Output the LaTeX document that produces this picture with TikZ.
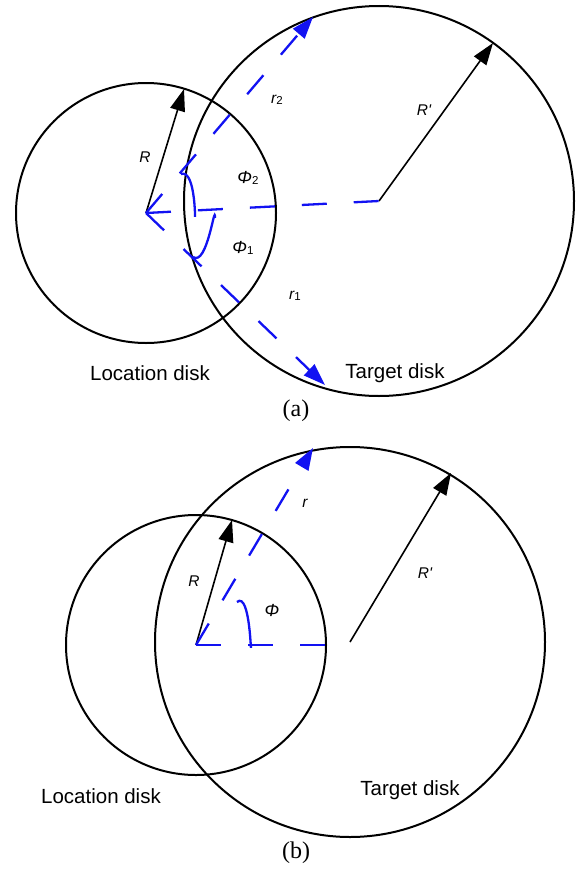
\documentclass[tikz,border=0pt]{standalone}
\usepackage{fontspec}
\setmainfont{Liberation Serif}
\newfontfamily\labelfont{Liberation Sans}
\usetikzlibrary{arrows.meta,calc}
\definecolor{ink}{HTML}{000000}
\definecolor{ray}{HTML}{1212F2}
\newcommand{\subidx}[1]{\raisebox{-1.5pt}{\fontsize{11.5}{13}\selectfont\upshape #1}}
\tikzset{
  disk/.style={draw=ink,line width=2pt},
  radarr/.style={-{Triangle[length=22pt,width=15pt]},draw=ink,fill=ink,line width=1.6pt},
  rayarr/.style={-{Triangle[length=22pt,width=15pt]},draw=ray,line width=2.3pt,dash pattern=on 25pt off 27pt},
  raydash/.style={draw=ray,line width=2.3pt,dash pattern=on 25pt off 27pt},
  anglearc/.style={draw=ray,line width=2.3pt},
  sym/.style={font=\labelfont\fontsize{15.5}{17}\selectfont\itshape,text=ink,inner sep=0pt},
  phi/.style={font=\labelfont\fontsize{17.5}{19}\selectfont\itshape,text=ink,inner sep=0pt},
  diskname/.style={font=\labelfont\fontsize{20.5}{24}\selectfont,text=ink,inner sep=0pt},
  panel/.style={font=\fontsize{24}{28}\selectfont,text=ink,inner sep=0pt},
}

\begin{document}
\begin{tikzpicture}[x=1pt,y=-1pt]
\useasboundingbox (0,0) rectangle (587,870);

% (a) two rays
\coordinate (aLc) at (146,213);
\coordinate (aTc) at (379,201);
\coordinate (aRtip) at (184,89);
\coordinate (aRptip) at (493,43);
\coordinate (ar2tip) at (313,17);
\coordinate (ar1tip) at (325,385);
\coordinate (aphiA) at (181,174);
\coordinate (aphiB) at (195,214);
\coordinate (aphiC) at (215,218);
\coordinate (aphiD) at (193,257);

\draw[disk] (aLc) circle[radius=130];
\draw[disk] (aTc) circle[radius=195];
\draw[radarr] (aLc) -- (aRtip);
\draw[radarr] (aTc) -- (aRptip);
\draw[raydash] (aLc) -- (aTc);
\draw[rayarr] (aLc) -- (ar2tip);
\draw[rayarr] (aLc) -- (ar1tip);
\draw[anglearc] (aphiA) to[out=20,in=-90] (aphiB);
\draw[anglearc] (aphiC) to[out=90,in=-35] (aphiD);

\node[sym] (aR) at (145,157) {R};
\node[sym] (aRp) at (424,110) {R\textquotesingle};
\node[sym] (ar2) at (277,100) {r\subidx{2}};
\node[sym] (ar1) at (295,296) {r\subidx{1}};
\node[phi] (aphi2) at (248,178) {Φ\subidx{2}};
\node[phi] (aphi1) at (243,248) {Φ\subidx{1}};
\node[diskname] (aloc) at (150,373) {Location disk};
\node[diskname] (atgt) at (395,373) {Target disk};
\node[panel] (acap) at (296,411) {(a)};

% (b) one ray
\coordinate (bLc) at (196,645);
\coordinate (bTc) at (350,642);
\coordinate (bRtip) at (232,520);
\coordinate (bRptip) at (451,473);
\coordinate (brtip) at (313,448);
\coordinate (bhend) at (325,645);
\coordinate (bphiA) at (237,602);
\coordinate (bphiB) at (251,645);

\draw[disk] (bLc) circle[radius=130];
\draw[disk] (bTc) circle[radius=195];
\draw[radarr] (bLc) -- (bRtip);
\draw[radarr] (bTc) -- (bRptip);
\draw[raydash] (bLc) -- (bhend);
\draw[rayarr] (bLc) -- (brtip);
\draw[anglearc] (bphiA) to[out=40,in=-90] (bphiB);

\node[sym] (bR) at (194,581) {R};
\node[sym] (bRp) at (425,573) {R\textquotesingle};
\node[sym] (br) at (305,503) {r};
\node[phi] (bphi) at (272,610) {Φ};
\node[diskname] (bloc) at (101,796) {Location disk};
\node[diskname] (btgt) at (410,790) {Target disk};
\node[panel] (bcap) at (296,853) {(b)};

\end{tikzpicture}
\end{document}
